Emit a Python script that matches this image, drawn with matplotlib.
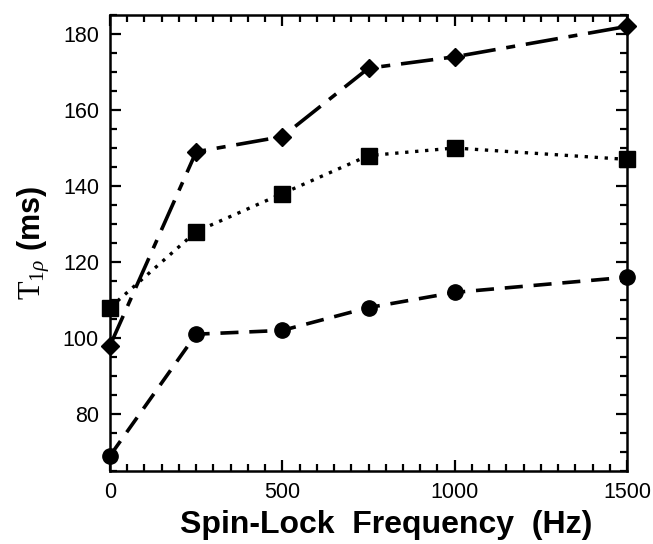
import matplotlib
matplotlib.use("Agg")
import matplotlib.pyplot as plt
from matplotlib.ticker import MultipleLocator

plt.rcParams['font.family'] = ['Liberation Sans', 'DejaVu Sans']
plt.rcParams['mathtext.fontset'] = 'custom'
plt.rcParams['mathtext.rm'] = 'Liberation Serif'
plt.rcParams['mathtext.it'] = 'Liberation Serif:italic'

freq = [0, 250, 500, 750, 1000, 1500]
diamond_vals = [98, 149, 153, 171, 174, 182]
square_vals = [108, 128, 138, 148, 150, 147]
circle_vals = [69, 101, 102, 108, 112, 116]

fig = plt.figure(figsize=(6.53, 5.44), dpi=100)
ax = fig.add_axes([110/653, 1 - 471/544, (627-110)/653, (471-15)/544])

ax.plot(freq, diamond_vals, color='black', lw=2.6, dashes=(9, 3, 2.5, 3),
        marker='D', ms=9.5, markerfacecolor='black', clip_on=False, zorder=3)
ax.plot(freq, square_vals, color='black', lw=2.4, linestyle=(0, (1, 2)),
        dash_capstyle='butt',
        marker='s', ms=11, markerfacecolor='black', clip_on=False, zorder=3)
ax.plot(freq, circle_vals, color='black', lw=2.6, dashes=(5, 3),
        marker='o', ms=11, markerfacecolor='black', clip_on=False, zorder=3)

ax.set_xlim(0, 1500)
ax.set_ylim(65, 185)
ax.xaxis.set_major_locator(MultipleLocator(500))
ax.xaxis.set_minor_locator(MultipleLocator(50))
ax.yaxis.set_major_locator(MultipleLocator(20))
ax.yaxis.set_minor_locator(MultipleLocator(5))
ax.tick_params(which='both', direction='in', top=True, right=True,
               width=1.6, labelsize=15.5, pad=8)
ax.tick_params(which='major', length=8)
ax.tick_params(which='minor', length=5)
for s in ax.spines.values():
    s.set_linewidth(1.8)

ax.set_xlabel('Spin-Lock  Frequency  (Hz)', fontsize=23, fontweight='bold')
ax.xaxis.set_label_coords(0.535, -0.085)
ax.set_ylabel(r'$\mathrm{T}_{1\rho}$ (ms)', fontsize=22, fontweight='bold', labelpad=8)

fig.savefig('out.png', dpi=100)
